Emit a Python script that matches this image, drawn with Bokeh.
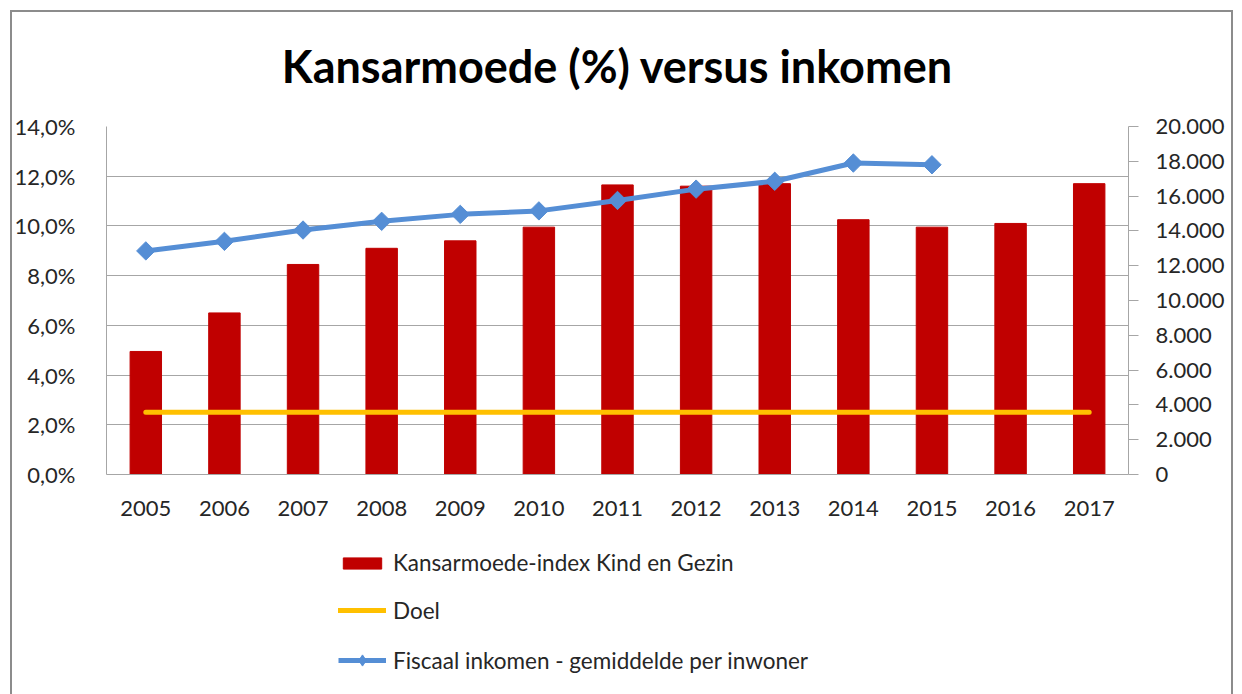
from bokeh.plotting import figure
from bokeh.layouts import column
from bokeh.models import (FactorRange, Range1d, LinearAxis, FixedTicker, CustomJSTickFormatter,
                          ColumnDataSource, Legend, LegendItem)
from bokeh.embed import file_html
from bokeh.resources import INLINE
import math

# ---- data ----
years = ["2005", "2006", "2007", "2008", "2009", "2010", "2011",
         "2012", "2013", "2014", "2015", "2016", "2017"]
kansarmoede = [4.95, 6.5, 8.45, 9.1, 9.4, 9.95, 11.65, 11.6, 11.7, 10.25, 9.95, 10.1, 11.7]
doel = [2.5, 2.5, 2.5, 2.5, 2.5, 2.5, 2.5, 2.5, 2.5, 2.5, 2.5, 2.5, 2.5]
inkomen_years = ["2005", "2006", "2007", "2008", "2009", "2010", "2011",
                 "2012", "2013", "2014", "2015"]
inkomen = [12850, 13400, 14050, 14550, 14950, 15150, 15750, 16400, 16850, 17900, 17800]
left_ticks = [0, 2, 4, 6, 8, 10, 12, 14]
right_ticks = [0, 2000, 4000, 6000, 8000, 10000, 12000, 14000, 16000, 18000, 20000]

title_text = "Kansarmoede (%) versus inkomen"
label_bars = "Kansarmoede-index Kind en Gezin"
label_doel = "Doel"
label_inc = "Fiscaal inkomen - gemiddelde per inwoner"

FONT = "Lato"
TXT = "#262626"
GRID = "#a6a6a6"
FRAME = "#8c8c8c"
C_BAR = "#c00000"
C_DOEL = "#ffc000"
C_INC = "#558ed5"

src_bar = ColumnDataSource(dict(year=years, kans=kansarmoede, doel=doel))
src_inc = ColumnDataSource(dict(year=inkomen_years, inc=inkomen))


def draw_series(fig, inc_range=None, marker="square", angle=math.pi / 4, size=13):
    kw = {} if inc_range is None else {"y_range_name": inc_range}
    rb = fig.vbar(x="year", top="kans", width=0.4, source=src_bar,
                  fill_color=C_BAR, line_color=C_BAR)
    rd = fig.line(x="year", y="doel", source=src_bar, line_color=C_DOEL,
                  line_width=5, line_cap="round")
    ri = fig.line(x="year", y="inc", source=src_inc, line_color=C_INC,
                  line_width=5, line_join="round", **kw)
    rm = fig.scatter(x="year", y="inc", source=src_inc, marker=marker,
                     angle=angle, size=size, fill_color=C_INC, line_color=C_INC, **kw)
    return rb, rd, ri, rm


p = figure(x_range=FactorRange(*years), y_range=Range1d(0, 14),
           width=1242, height=530, output_backend="svg", toolbar_location=None,
           min_border_left=106, min_border_right=114, min_border_top=126,
           min_border_bottom=56)
p.extra_y_ranges = {"inc": Range1d(0, 20000)}

p.title.text = title_text
p.title.align = "center"
p.title.text_font = FONT
p.title.text_font_size = "45px"
p.title.text_font_style = "bold"
p.title.text_color = "#000000"
p.title.standoff = 68

p.outline_line_color = None
p.background_fill_color = "white"
p.border_fill_color = None
# outer chart border (CSS on the plot element): left, top, right edges
p.styles = {
    "background-color": "white",
    "background-image": ("linear-gradient(%s,%s), linear-gradient(%s,%s), linear-gradient(%s,%s)"
                         % (FRAME, FRAME, FRAME, FRAME, FRAME, FRAME)),
    "background-size": "2px 100%, 1223px 2px, 2px 100%",
    "background-position": "10px 10px, 10px 10px, 1231px 10px",
    "background-repeat": "no-repeat",
}

draw_series(p, "inc")

# axes
pct_fmt = CustomJSTickFormatter(code="return tick.toFixed(1).replace('.', ',') + '%';")
num_fmt = CustomJSTickFormatter(
    code="return String(Math.round(tick)).replace(/\\B(?=(\\d{3})+(?!\\d))/g, '.');")

ax_l = p.left[0]
ax_l.ticker = FixedTicker(ticks=left_ticks)
ax_l.formatter = pct_fmt
ax_l.axis_line_color = GRID
ax_l.major_tick_line_color = None
ax_l.minor_tick_line_color = None
ax_l.major_label_standoff = 25
ax_l.major_label_text_font = FONT
ax_l.major_label_text_font_size = "22px"
ax_l.major_label_text_color = TXT

ax_b = p.below[0]
ax_b.axis_line_color = GRID
ax_b.major_tick_line_color = None
ax_b.major_label_standoff = 20
ax_b.major_label_text_font = FONT
ax_b.major_label_text_font_size = "22px"
ax_b.major_label_text_color = TXT

ax_r = LinearAxis(y_range_name="inc", ticker=FixedTicker(ticks=right_ticks), formatter=num_fmt)
ax_r.axis_line_color = GRID
ax_r.major_tick_line_color = GRID
ax_r.major_tick_out = 10
ax_r.major_tick_in = 0
ax_r.minor_tick_line_color = None
ax_r.major_label_standoff = 17
ax_r.major_label_text_font = FONT
ax_r.major_label_text_font_size = "22px"
ax_r.major_label_text_color = TXT
p.add_layout(ax_r, "right")

p.xgrid.grid_line_color = None
p.ygrid.ticker = FixedTicker(ticks=left_ticks)
p.ygrid.grid_line_color = GRID
p.ygrid.grid_line_width = 1

# ---- legend strip below the chart (same series; its view window lies far above all data) ----
q = figure(x_range=FactorRange(*years), y_range=Range1d(1e6, 1e6 + 1), width=1242, height=164,
           output_backend="svg", toolbar_location=None,
           min_border_left=0, min_border_right=0, min_border_top=0, min_border_bottom=0)
q.axis.visible = False
q.grid.visible = False
q.outline_line_color = None
q.background_fill_color = None
q.border_fill_color = None
q.styles = {
    "background-color": "white",
    "background-image": ("linear-gradient(%s,%s), linear-gradient(%s,%s)"
                         % (FRAME, FRAME, FRAME, FRAME)),
    "background-size": "2px 100%, 2px 100%",
    "background-position": "10px 0px, 1231px 0px",
    "background-repeat": "no-repeat",
}
lg_bar, lg_doel, lg_inc, lg_inc_m = draw_series(q, marker="diamond", angle=0, size=15)

common = dict(orientation="vertical", glyph_width=48, label_standoff=7, spacing=22,
              padding=0, margin=0, border_line_color=None, background_fill_alpha=0,
              label_text_font=FONT, label_text_font_size="22.5px", label_text_color=TXT)
legend_bar = Legend(items=[LegendItem(label=label_bars, renderers=[lg_bar])],
                    location=(232, 118), glyph_height=14, **common)
legend_lines = Legend(items=[LegendItem(label=label_doel, renderers=[lg_doel]),
                             LegendItem(label=label_inc, renderers=[lg_inc, lg_inc_m])],
                      location=(232, 20), glyph_height=28, **common)
q.add_layout(legend_bar, "center")
q.add_layout(legend_lines, "center")

layout = column(p, q, spacing=0)
open("out.html", "w").write(file_html(layout, INLINE))
